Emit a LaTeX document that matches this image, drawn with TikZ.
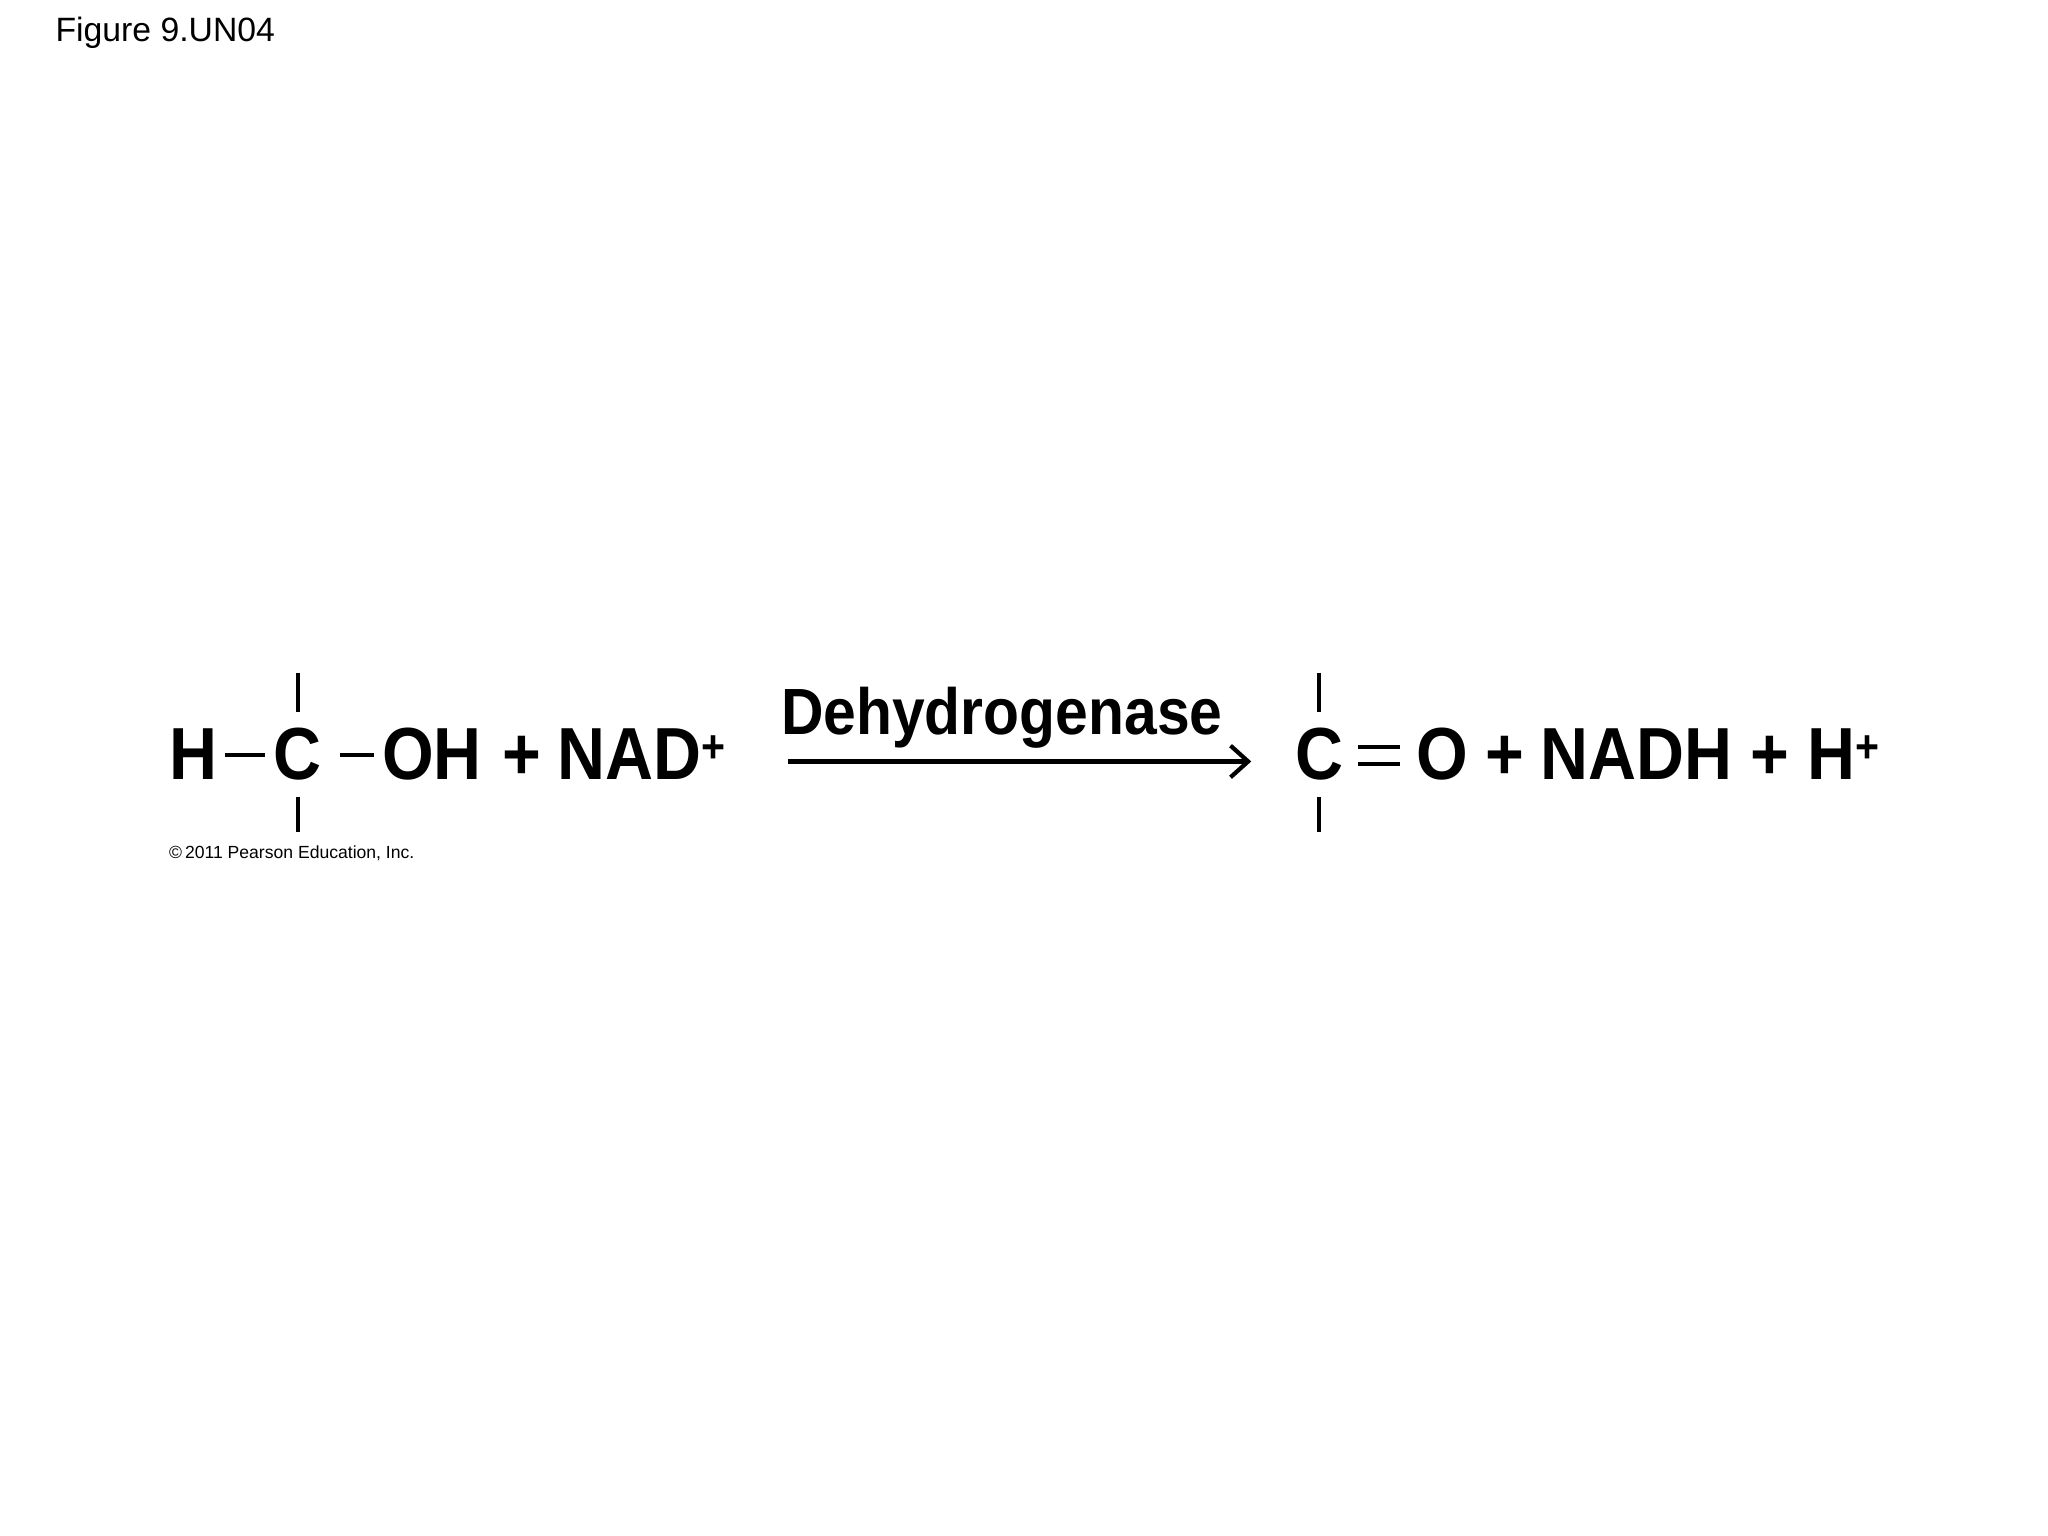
\documentclass[tikz,border=0pt]{standalone}
\usetikzlibrary{arrows.meta}
\usepackage{fontspec}
\setmainfont{Liberation Sans}
\newfontfamily\narrowf[FakeStretch=0.9]{Liberation Sans}
\begin{document}
\begin{tikzpicture}[x=0.01306cm,y=-0.01306cm,
  big/.style={font=\narrowf\fontsize{21}{24}\selectfont\bfseries,inner sep=0,anchor=base west},
  bond/.style={line width=1.1pt}]
\useasboundingbox (0,0) rectangle (1568,1176);
\node[anchor=base west,inner sep=0,font=\fontsize{9.6}{11}\selectfont] (t) at (42,32) {Figure 9.UN04};
\node[big] (h) at (129,597) {H};
\node[big,anchor=base] (c1) at (228,597) {C};
\node[big] (oh) at (292,597) {OH};
\node[big] (p1) at (384,597) {+};
\node[big] (nad) at (426,597) {NAD\raisebox{0.45ex}{\fontsize{13}{14}\selectfont +}};
\coordinate (a1) at (172,578); \coordinate (a2) at (203,578);
\coordinate (b1) at (260,578); \coordinate (b2) at (286,578);
\draw[bond] (a1) -- (a2); \draw[bond] (b1) -- (b2);
\coordinate (v1) at (228,515); \coordinate (v2) at (228,545);
\coordinate (v3) at (228,610); \coordinate (v4) at (228,637);
\draw[bond] (v1) -- (v2); \draw[bond] (v3) -- (v4);
\node[anchor=base west,inner sep=0,font=\fontsize{5.0}{6}\selectfont] (cp) at (129,657) {\textcopyright\,2011 Pearson Education, Inc.};
\coordinate (s) at (603,583); \coordinate (e) at (958,583);
\draw[line width=1.2pt,-{Straight Barb[length=5pt,width=9pt]}] (s) -- (e);
\node[anchor=base,inner sep=0,font=\narrowf\fontsize{18.6}{22}\selectfont\bfseries] (dh) at (767,562) {Dehydrogenase};
\node[big,anchor=base] (c2) at (1010,597) {C};
\coordinate (w1) at (1010,515); \coordinate (w2) at (1010,545);
\coordinate (w3) at (1010,610); \coordinate (w4) at (1010,637);
\draw[bond] (w1) -- (w2); \draw[bond] (w3) -- (w4);
\coordinate (d1) at (1040,572); \coordinate (d2) at (1072,572);
\coordinate (d3) at (1040,585); \coordinate (d4) at (1072,585);
\draw[bond] (d1) -- (d2); \draw[bond] (d3) -- (d4);
\node[big] (o) at (1084,597) {O};
\node[big] (p2) at (1137,597) {+};
\node[big] (nadh) at (1179,597) {NADH};
\node[big] (p3) at (1340,597) {+};
\node[big] (hp) at (1383,597) {H\raisebox{0.45ex}{\fontsize{13}{14}\selectfont +}};
\end{tikzpicture}
\end{document}
